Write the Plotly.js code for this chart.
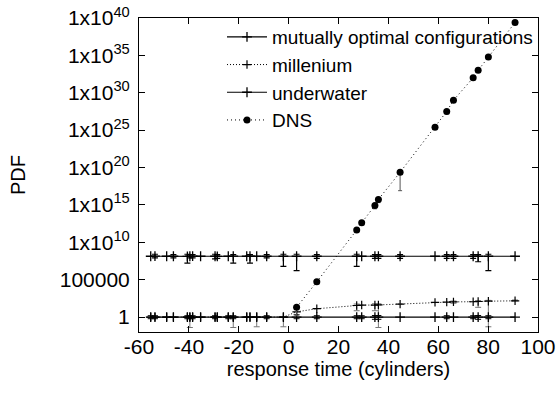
<!DOCTYPE html>
<html>
<head>
<meta charset="utf-8">
<script src="https://cdn.plot.ly/plotly-3.0.1.min.js"></script>
<style>html,body{margin:0;padding:0;background:#fff;}#chart{width:560px;height:398px;}</style>
</head>
<body>
<div id="chart"></div>
<script>
// shared x positions (response time, cylinders)
const xAll = [-55.3, -53.6, -48.9, -46.2, -40.6, -39.6, -38.5, -35.3, -29.5, -28.6, -24.2, -22.2, -16.8, -15.5, -12.8, -8.8, -2.1, 3.2, 11.3, 27.3, 29.3, 34.6, 36.0, 44.7, 58.7, 63.4, 66.1, 74.0, 76.0, 80.1, 90.8];

// mutually optimal configurations
const mutualY  = [1.35e8, 1.4e8, 1.35e8, 1.35e8, 1.3e8, 1.35e8, 1.4e8, 1.35e8, 1.35e8, 1.3e8, 1.35e8, 1.4e8, 1.35e8, 1.35e8, 1.35e8, 1.35e8, 1.35e8, 1.35e8, 1.35e8, 1.35e8, 1.35e8, 1.35e8, 1.35e8, 1.35e8, 1.35e8, 1.35e8, 1.35e8, 1.35e8, 1.35e8, 1.35e8, 1.35e8];
const mutualHi = [null, 2.5e8, null, 2.3e8, 2.5e8, 2.2e8, 2.2e8, null, 2.5e8, 2.3e8, null, 2.3e8, null, 2.3e8, null, 2.3e8, 2.5e8, 2.5e8, 2.3e8, 2.5e8, null, 2.3e8, 2.3e8, 2.3e8, null, 2.3e8, 2.3e8, 2.3e8, 2.3e8, 2.5e8, null];
const mutualLo = [null, 8e7, null, 8e7, 1.6e7, 8e7, 8e7, null, 6e7, 7e7, null, 1.6e7, null, 1.6e7, null, 8e7, 6e6, 1.6e6, 7e7, 6e6, null, 7e7, 7e7, 7e7, null, 7e7, 7e7, 7e7, 2.5e7, 1.6e6, null];

// millenium
const millY  = [1, 1, 1, 1, 1, 1, 1, 1, 1, 1, 1, 1, 1, 1, 1, 1, 1, 5, 13, 35, 40, 40, 42, 54, 91, 100, 107, 112, 120, 132, 148];
const millHi = [null, null, null, null, null, null, null, null, null, null, null, null, null, null, null, null, null, null, null, 55, null, 60, 60, null, null, null, 140, null, 160, 170, 190];
const millLo = [null, null, null, null, null, 0.04, null, null, null, null, null, 0.04, null, null, 0.05, null, 0.05, null, null, 7, null, 7, 0.04, null, null, null, 70, null, 20, 0.05, null];

// underwater
const waterY  = [1, 1, 1, 1, 1, 1, 1, 1, 1, 1, 1, 1, 1, 1, 1, 1, 1, 1, 1, 1, 1, 1, 1, 1, 1, 1, 1, 1, 1, 1, 1];
const waterHi = [1.5, 1.5, null, null, 1.5, 1.5, 1.5, null, 1.5, null, 1.5, 1.5, null, null, null, 1.5, null, 2, 1.5, 1.5, 1.5, 1.6, 1.6, null, null, 1.5, null, 1.5, 1.6, 1.5, null];
const waterLo = [0.6, 0.6, null, null, 0.6, 0.6, 0.6, null, 0.6, null, 0.6, 0.6, null, null, null, 0.6, null, 0.6, 0.6, 0.6, 0.6, 0.5, 0.5, null, null, 0.6, null, 0.6, 0.5, 0.6, null];

// DNS
const dnsX  = [3.2, 11.3, 27.3, 29.3, 34.6, 36.0, 44.7, 58.7, 63.4, 66.1, 74.0, 76.0, 80.1, 90.8];
const dnsY  = [20, 5.1e4, 4.4e11, 4e12, 8.5e14, 5.4e15, 2.3e19, 2.5e25, 3.2e27, 1e29, 1e32, 1e33, 6.3e34, 2.5e39];
const dnsLo = [1.5, null, null, null, 3e14, 2e15, 8e16, null, 1.5e27, null, null, null, null, null];

// tick labels
const xTickVals = [-60, -40, -20, 0, 20, 40, 60, 80, 100];
const xTickText = ['-60', '-40', '-20', '0', '20', '40', '60', '80', '100'];
const yTickVals = [1, 1e5, 1e10, 1e15, 1e20, 1e25, 1e30, 1e35, 1e40];
const yTickText = ['1', '100000', '1x10<sup>10</sup>', '1x10<sup>15</sup>', '1x10<sup>20</sup>', '1x10<sup>25</sup>', '1x10<sup>30</sup>', '1x10<sup>35</sup>', '1x10<sup>40</sup>'];

function plus(y, hi) { return y.map((v, i) => hi[i] == null ? NaN : hi[i] - v); }
function minus(y, lo) { return y.map((v, i) => lo[i] == null ? NaN : v - lo[i]); }

const FONT = 'Liberation Sans, Arial, Helvetica, sans-serif';

const traces = [
  {
    name: 'mutually optimal configurations', x: xAll, y: mutualY, type: 'scatter', mode: 'lines+markers',
    line: {color: '#000', width: 1.2},
    marker: {symbol: 'cross-thin-open', size: 7, color: '#000', line: {color: '#000', width: 1.3}},
    error_y: {type: 'data', symmetric: false, array: plus(mutualY, mutualHi), arrayminus: minus(mutualY, mutualLo), color: '#000', thickness: 1.2, width: 3}
  },
  {
    name: 'millenium', x: xAll, y: millY, type: 'scatter', mode: 'lines+markers',
    line: {color: '#000', width: 1, dash: '1px,2px'},
    marker: {symbol: 'cross-thin-open', size: 6, color: '#000', line: {color: '#000', width: 1.2}},
    error_y: {type: 'data', symmetric: false, array: plus(millY, millHi), arrayminus: minus(millY, millLo), color: '#777', thickness: 1, width: 3}
  },
  {
    name: 'underwater', x: xAll, y: waterY, type: 'scatter', mode: 'lines+markers',
    line: {color: '#000', width: 1.2},
    marker: {symbol: 'cross-thin-open', size: 7, color: '#000', line: {color: '#000', width: 1.3}},
    error_y: {type: 'data', symmetric: false, array: plus(waterY, waterHi), arrayminus: minus(waterY, waterLo), color: '#000', thickness: 1, width: 3}
  },
  {
    name: 'DNS', x: dnsX, y: dnsY, type: 'scatter', mode: 'lines+markers',
    line: {color: '#000', width: 1, dash: '1px,3px'},
    marker: {symbol: 'circle', size: 7, color: '#000'},
    error_y: {type: 'data', symmetric: false, array: dnsY.map(() => 0), arrayminus: minus(dnsY, dnsLo), color: '#555', thickness: 1, width: 2}
  }
];

const layout = {
  width: 560, height: 398,
  margin: {l: 139, r: 22, t: 18, b: 66},
  paper_bgcolor: '#fff', plot_bgcolor: '#fff',
  font: {family: FONT, size: 20, color: '#000'},
  showlegend: true,
  legend: {x: 1, xanchor: 'right', y: 1, yanchor: 'top', bgcolor: 'rgba(0,0,0,0)', font: {family: FONT, size: 19}, tracegroupgap: 0, itemwidth: 40},
  xaxis: {
    type: 'linear', range: [-60, 100], tickvals: xTickVals, ticktext: xTickText,
    ticks: 'inside', ticklen: 6, tickcolor: '#000', showline: true, linecolor: '#000', linewidth: 1, mirror: 'ticks',
    showgrid: false, zeroline: false, tickfont: {family: FONT, size: 21}, ticklabelstandoff: -4,
    title: {text: 'response time (cylinders)', font: {family: FONT, size: 20}, standoff: 0}
  },
  yaxis: {
    type: 'log', range: [-2, 40], tickvals: yTickVals, ticktext: yTickText,
    ticks: 'inside', ticklen: 6, tickcolor: '#000', showline: true, linecolor: '#000', linewidth: 1, mirror: 'ticks',
    showgrid: false, zeroline: false, tickfont: {family: FONT, size: 21}, ticklabelstandoff: 4,
    title: {text: 'PDF', font: {family: FONT, size: 20}, standoff: 28}
  }
};

Plotly.newPlot('chart', traces, layout, {displayModeBar: false, staticPlot: true});
</script>
</body>
</html>
